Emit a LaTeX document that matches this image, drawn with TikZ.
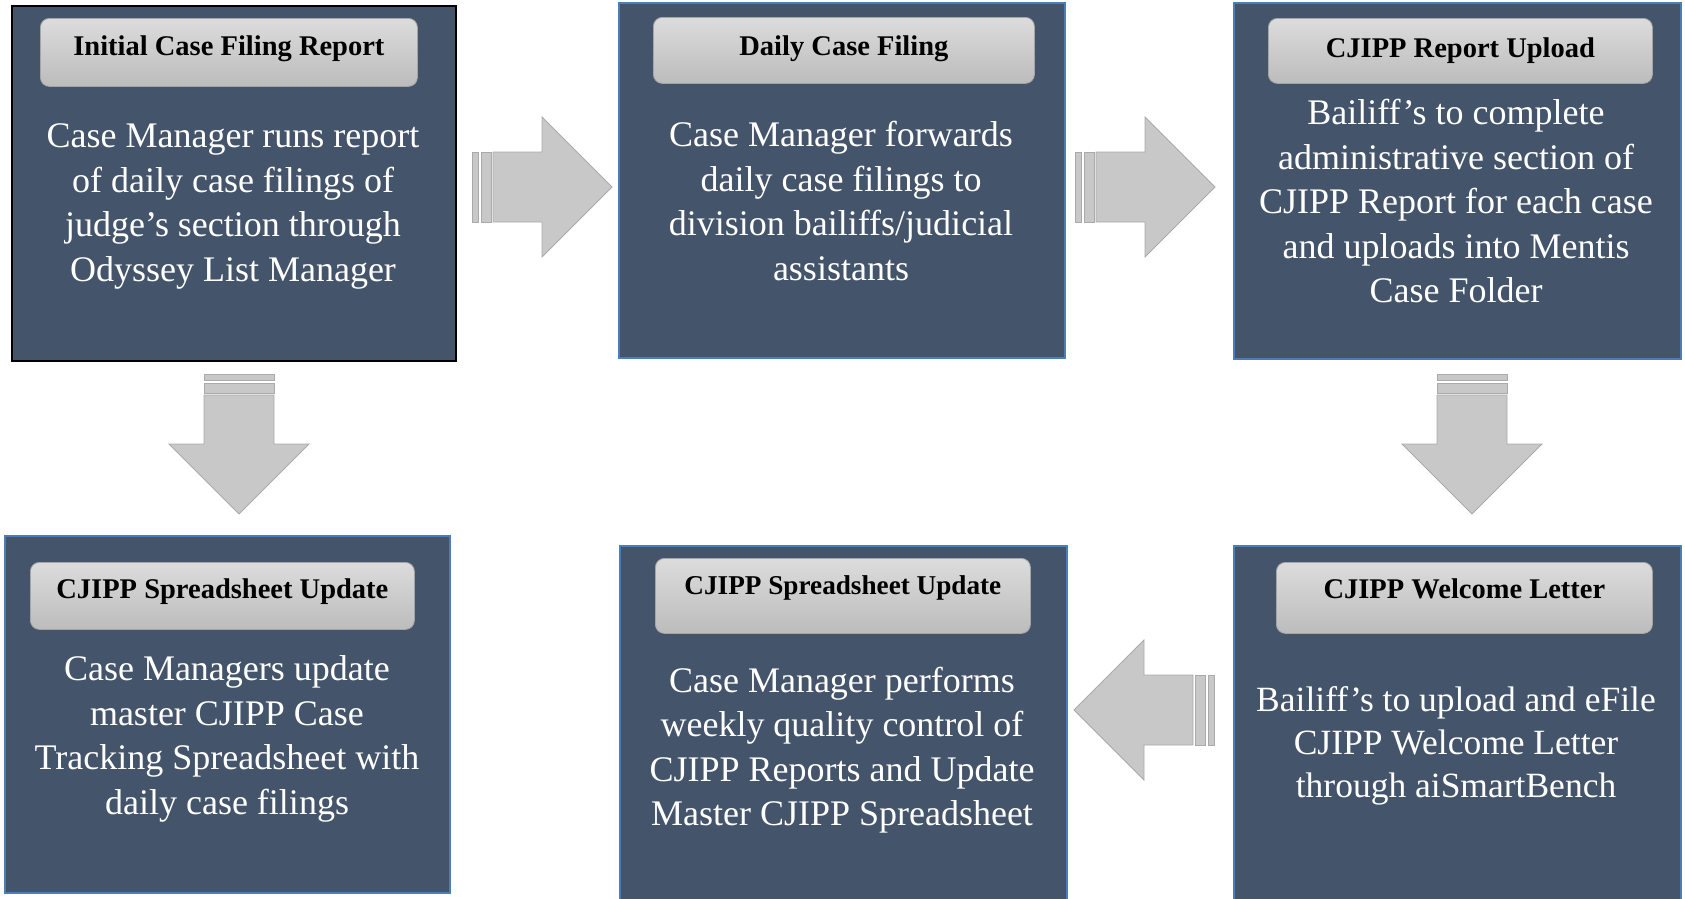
\documentclass[tikz,border=0pt]{standalone}
\usepackage{fontspec}
\setmainfont{Liberation Serif}
\usetikzlibrary{calc}

\definecolor{slate}{RGB}{68,84,106}
\definecolor{edgeblue}{RGB}{74,126,187}
\definecolor{pilltop}{RGB}{220,220,220}
\definecolor{pillbot}{RGB}{188,188,188}
\definecolor{pilledge}{RGB}{165,165,165}
\definecolor{arrfill}{RGB}{200,200,200}
\definecolor{arredge}{RGB}{170,170,170}

\tikzset{
  stepbox/.style={draw=edgeblue, line width=2pt, fill=slate, rectangle, inner sep=0pt, anchor=north west},
  headpill/.style={draw=pilledge, line width=0.8pt, rounded corners=9pt, top color=pilltop, bottom color=pillbot, inner sep=0pt, anchor=north west},
  headtext/.style={font=\fontsize{28.5}{34}\selectfont\bfseries, text=black, inner sep=0pt, text height=20pt, text depth=6pt},
  bodytext/.style={font=\fontsize{36}{44.5}\selectfont, text=white, align=center, inner sep=0pt},
  arrowpart/.style={draw=arredge, line width=0.8pt, fill=arrfill},
  pics/blockarrow/.style={code={
    \path[arrowpart] (-49,-35) -- (0,-35) -- (0,-70) -- (70,0) -- (0,70) -- (0,35) -- (-49,35) -- cycle;
    \path[arrowpart] (-61,-35) rectangle (-51,35);
    \path[arrowpart] (-70,-35) rectangle (-64,35);
  }},
}

\begin{document}
\begin{tikzpicture}[x=1pt, y=-1pt]
  \fill[white] (0,0) rectangle (1685,898);
  \useasboundingbox (0,0) rectangle (1685,898);

  % step boxes
  \node[stepbox, draw=black, line width=1.5pt, minimum width=444pt, minimum height=355pt] (b1) at (11,5) {};
  \node[stepbox, minimum width=446pt, minimum height=355pt] (b2) at (618,2) {};
  \node[stepbox, minimum width=447pt, minimum height=356pt] (b3) at (1233,2) {};
  \node[stepbox, minimum width=445pt, minimum height=357pt] (b4) at (4,535) {};
  \node[stepbox, minimum width=447pt, minimum height=360pt] (b5) at (619,545) {};
  \node[stepbox, minimum width=447pt, minimum height=360pt] (b6) at (1233,545) {};

  % header pills
  \node[headpill, minimum width=377pt, minimum height=68pt] (h1) at (40,18) {};
  \node[headpill, minimum width=381pt, minimum height=66pt] (h2) at (653,17) {};
  \node[headpill, minimum width=384pt, minimum height=65pt] (h3) at (1268,18) {};
  \node[headpill, minimum width=384pt, minimum height=67pt] (h4) at (30,562) {};
  \node[headpill, minimum width=375pt, minimum height=75pt] (h5) at (655,558) {};
  \node[headpill, minimum width=376pt, minimum height=71pt] (h6) at (1276,562) {};

  \node[headtext] (t1) at ($(h1.center)+(0,-4)$) {Initial Case Filing Report};
  \node[headtext] (t2) at ($(h2.center)+(0,-1.5)$) {Daily Case Filing};
  \node[headtext] (t3) at ($(h3.center)+(0,-0.5)$) {CJIPP Report Upload};
  \node[headtext] (t4) at ($(h4.center)+(0,-4)$) {CJIPP Spreadsheet Update};
  \node[headtext, font=\fontsize{27.2}{32}\selectfont\bfseries] (t5) at ($(h5.center)+(0,-8.5)$) {CJIPP Spreadsheet Update};
  \node[headtext] (t6) at ($(h6.center)+(0,-6)$) {CJIPP Welcome Letter};

  % step descriptions
  \node[bodytext] (d1) at (233,206.5) {Case Manager runs report\\of daily case filings of\\judge’s section through\\Odyssey List Manager};
  \node[bodytext] (d2) at (841,201) {Case Manager forwards\\daily case filings to\\division bailiffs/judicial\\assistants};
  \node[bodytext] (d3) at (1456,201) {Bailiff’s to complete\\administrative section of\\CJIPP Report for each case\\and uploads into Mentis\\Case Folder};
  \node[bodytext] (d4) at (227,739) {Case Managers update\\master CJIPP Case\\Tracking Spreadsheet with\\daily case filings};
  \node[bodytext] (d5) at (842,750) {Case Manager performs\\weekly quality control of\\CJIPP Reports and Update\\Master CJIPP Spreadsheet};
  \node[bodytext, font=\fontsize{35.5}{43}\selectfont] (d6) at (1456,745.5) {Bailiff’s to upload and eFile\\CJIPP Welcome Letter\\through aiSmartBench};

  % block arrows between the steps
  \pic at (542,187) {blockarrow};
  \pic at (1145,187) {blockarrow};
  \pic[rotate=-90] at (239,444) {blockarrow};
  \pic[rotate=-90] at (1472,444) {blockarrow};
  \pic[rotate=180] at (1144,710) {blockarrow};
\end{tikzpicture}
\end{document}
